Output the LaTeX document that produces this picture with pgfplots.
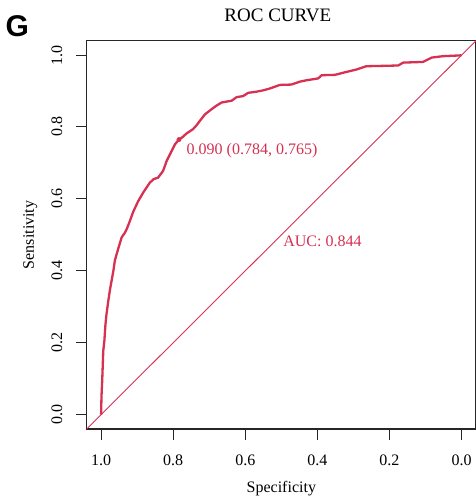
\documentclass[border=0pt]{standalone}
\usepackage{fontspec}
\setmainfont{Liberation Serif}
\newfontfamily\gfont{Liberation Sans}
\usepackage{pgfplots}
\pgfplotsset{compat=1.18}
\definecolor{roc}{RGB}{214,48,82}
\begin{document}
\begin{tikzpicture}
\useasboundingbox (0pt,0pt) rectangle (476pt,498pt);
\node[anchor=base west, inner sep=0pt, font=\gfont\bfseries\fontsize{30}{36}\selectfont] at (5.5pt,461pt) {G};
\begin{axis}[
  at={(86.7pt,69pt)}, anchor=south west,
  scale only axis, width=389.3pt, height=388.3pt,
  x dir=reverse,
  xmin=-0.04, xmax=1.04, ymin=-0.04, ymax=1.04,
  axis line style={line width=1.1pt, black!85},
  font=\fontsize{16}{19}\selectfont,
  xtick={1,0.8,0.6,0.4,0.2,0},
  xticklabels={1.0,0.8,0.6,0.4,0.2,0.0},
  ytick={0,0.2,0.4,0.6,0.8,1},
  yticklabels={0.0,0.2,0.4,0.6,0.8,1.0},
  xtick pos=lower, ytick pos=left,
  tick align=outside,
  major tick length=10.5pt,
  tick style={line width=1pt, black!85},
  /pgf/number format/assume math mode=true,
  xticklabel style={anchor=base, inner sep=0pt, yshift=-26pt},
  yticklabel style={xshift=-14pt, rotate=90, anchor=base, inner sep=0pt},
  title={ROC CURVE},
  title style={at={(axis description cs:0.491,1.0345)}, anchor=base, inner sep=0pt, font=\fontsize{19}{23}\selectfont},
  xlabel={Specificity},
  xlabel style={at={(axis description cs:0.5,-0.164)}, anchor=base, inner sep=0pt},
  ylabel={Sensitivity},
  ylabel style={at={(axis description cs:-0.1354,0.5)}, anchor=base, inner sep=0pt},
  clip=true,
]
\addplot[roc, line width=0.9pt, forget plot] coordinates {(1.04,-0.04) (-0.04,1.04)};
\addplot[roc, line width=2.3pt, line join=round, forget plot] coordinates {
(1.0,0.0) (0.999,0.05) (0.997,0.094) (0.994,0.178) (0.991,0.205) (0.988,0.25)
(0.985,0.28) (0.980,0.317) (0.975,0.35) (0.971,0.372) (0.966,0.40) (0.962,0.428)
(0.957,0.446) (0.950,0.47) (0.943,0.493) (0.934,0.506) (0.929,0.516) (0.920,0.539)
(0.911,0.564) (0.897,0.594) (0.883,0.618) (0.865,0.645) (0.854,0.655) (0.842,0.659)
(0.828,0.678) (0.818,0.706) (0.809,0.724) (0.800,0.742) (0.795,0.752) (0.784,0.765)
(0.774,0.772) (0.763,0.782) (0.745,0.794) (0.735,0.805) (0.726,0.817) (0.712,0.835)
(0.698,0.846) (0.682,0.858) (0.666,0.868) (0.650,0.871) (0.638,0.873) (0.624,0.883)
(0.606,0.886) (0.592,0.895) (0.570,0.898) (0.550,0.902) (0.532,0.907) (0.504,0.917)
(0.472,0.918) (0.449,0.926) (0.430,0.930) (0.398,0.935) (0.388,0.944) (0.351,0.945)
(0.328,0.951) (0.291,0.960) (0.264,0.969) (0.176,0.971) (0.162,0.979) (0.107,0.981)
(0.083,0.993) (0.051,0.997) (0.005,0.999) (0.0,1.0)
};
\addplot[roc, only marks, mark=*, mark size=2.2pt, forget plot] coordinates {(0.784,0.765)};
\node[anchor=base west, inner sep=0pt, text=roc] at (axis cs:0.763,0.724) {0.090 (0.784, 0.765)};
\node[anchor=base west, inner sep=0pt, text=roc] at (axis cs:0.495,0.4675) {AUC: 0.844};
\end{axis}
\end{tikzpicture}
\end{document}
